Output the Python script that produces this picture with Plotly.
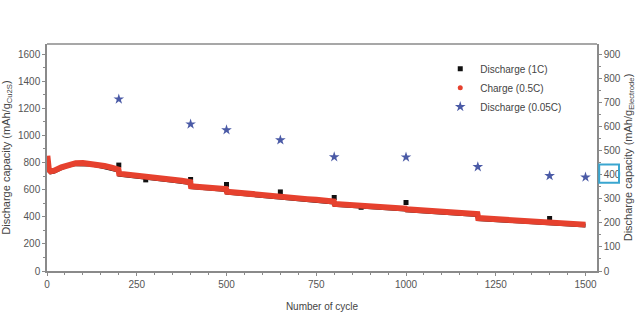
import plotly.graph_objects as go

# Charge (0.5C) - red band
charge_cycles = [1, 3, 5, 10, 20, 40, 60, 80, 100, 120, 140, 160, 180, 199, 201, 225, 250, 275, 300, 325, 350, 375,
                 399, 401, 425, 450, 475, 499, 501, 525, 550, 575, 600, 625, 649, 651, 675, 700, 725, 750, 775, 799,
                 801, 825, 850, 875, 900, 925, 950, 975, 999, 1001, 1025, 1050, 1075, 1100, 1125, 1150, 1175, 1199,
                 1201, 1225, 1250, 1275, 1300, 1325, 1350, 1375, 1400, 1425, 1450, 1475, 1500]
charge_values = [850, 790, 750, 735, 740, 765, 785, 795, 797, 793, 785, 775, 762, 748, 718, 712, 705, 695, 688, 680,
                 672, 665, 655, 625, 620, 615, 610, 604, 585, 578, 572, 567, 562, 557, 552, 545, 540, 535, 530, 525,
                 518, 512, 495, 492, 488, 484, 480, 476, 470, 465, 460, 455, 450, 446, 442, 438, 434, 430, 426, 420,
                 390, 386, 382, 378, 374, 370, 366, 362, 358, 354, 350, 346, 342]

# Discharge (1C) - black, mostly under the red band
dis_cycles = [1, 5, 10, 20, 40, 60, 80, 100, 120, 140, 160, 180, 199, 201, 250, 300, 350, 399, 401, 450, 499, 501,
              550, 600, 649, 651, 700, 750, 799, 801, 850, 900, 950, 999, 1001, 1050, 1100, 1150, 1199, 1201, 1250,
              1300, 1350, 1400, 1450, 1500]
dis_values = [820, 740, 728, 733, 758, 778, 788, 790, 786, 778, 768, 755, 741, 711, 698, 681, 665, 648, 618, 608,
              597, 578, 565, 555, 545, 538, 528, 518, 505, 488, 481, 473, 463, 453, 448, 439, 431, 423, 413, 383,
              375, 367, 359, 351, 343, 335]
# Discharge (1C) outlier points visible outside the band
dis_pt_cycles = [200, 275, 400, 500, 650, 800, 875, 1000, 1400]
dis_pt_values = [781, 672, 675, 638, 583, 542, 470, 505, 387]

# Discharge (0.05C) - stars, right axis
star_cycles = [200, 400, 500, 650, 800, 1000, 1200, 1400, 1500]
star_values = [713, 609, 585, 543, 473, 472, 432, 395, 389]

x_ticks = [0, 250, 500, 750, 1000, 1250, 1500]
y_ticks = [0, 200, 400, 600, 800, 1000, 1200, 1400, 1600]
y2_ticks = [0, 100, 200, 300, 400, 500, 600, 700, 800, 900]

RED = "#e6412e"
BLACK = "#111111"
BLUE = "#4a5aa6"
AX = "#8a8a8a"
TXT = "#555555"
FONT = "Liberation Sans, Arial, sans-serif"

fig = go.Figure()

fig.add_trace(go.Scatter(x=dis_cycles, y=dis_values, mode="lines",
                         line=dict(color=BLACK, width=4), showlegend=False, hoverinfo="skip"))
fig.add_trace(go.Scatter(x=dis_pt_cycles, y=dis_pt_values, mode="markers", name="Discharge (1C)",
                         marker=dict(symbol="square", size=5, color=BLACK)))
fig.add_trace(go.Scatter(x=charge_cycles, y=charge_values, mode="lines", name="Charge (0.5C)",
                         line=dict(color=RED, width=6), showlegend=False))
fig.add_trace(go.Scatter(x=[None], y=[None], mode="markers", name="Charge (0.5C)",
                         marker=dict(symbol="circle", size=5, color=RED)))
fig.add_trace(go.Scatter(x=star_cycles, y=star_values, mode="markers", name="Discharge (0.05C)", yaxis="y2",
                         marker=dict(symbol="star", size=8, color=BLUE)))

fig.add_shape(type="rect", xref="paper", yref="y2", x0=1.004, x1=1.04, y0=366, y1=442,
              line=dict(color="#3aa6d0", width=2))

fig.update_layout(
    width=640, height=324,
    margin=dict(l=47, r=43, t=44, b=53),
    paper_bgcolor="white", plot_bgcolor="white",
    font=dict(family=FONT, color=TXT, size=10),
    showlegend=True,
    legend=dict(x=0.715, y=0.955, xanchor="left", yanchor="top", bgcolor="rgba(0,0,0,0)",
                font=dict(size=10, color="#444"), itemwidth=30, tracegroupgap=0),
    xaxis=dict(range=[0, 1532], tickvals=x_ticks, ticks="outside", ticklen=3, tickcolor=AX,
               showline=True, linecolor=AX, linewidth=1.5, mirror=False, showgrid=False, zeroline=False,
               automargin=False,
               minor=dict(dtick=50, ticks="outside", ticklen=2, tickcolor=AX),
               title=dict(text="Number of cycle", font=dict(size=10, color="#444"), standoff=14),
               tickfont=dict(size=10, color=TXT)),
    yaxis=dict(range=[0, 1674], tickvals=y_ticks, ticks="outside", ticklen=3, tickcolor=AX,
               showline=True, linecolor=AX, linewidth=1.5, showgrid=False, zeroline=False,
               automargin=False,
               minor=dict(dtick=100, ticks="outside", ticklen=2, tickcolor=AX),
               title=dict(text="Discharge capacity (mAh/g<sub>Cu2S</sub>)", font=dict(size=11, color="#444"),
                          standoff=6),
               tickfont=dict(size=10, color=TXT)),
    yaxis2=dict(range=[0, 941.6], tickvals=y2_ticks, overlaying="y", side="right", anchor="x",
                ticks="outside", ticklen=3, tickcolor=AX, automargin=False,
                showline=True, linecolor=AX, linewidth=1.5, showgrid=False, zeroline=False,
                minor=dict(dtick=50, ticks="outside", ticklen=2, tickcolor=AX),
                title=dict(text="Discharge capacity (mAh/g<sub>Electrode</sub>)", font=dict(size=11, color="#444"),
                           standoff=4),
                tickfont=dict(size=10, color=TXT)),
)

# top frame line
fig.add_shape(type="line", xref="paper", yref="paper", x0=0, x1=1, y0=1, y1=1,
              line=dict(color=AX, width=1.5))

fig.write_html("out.html")
